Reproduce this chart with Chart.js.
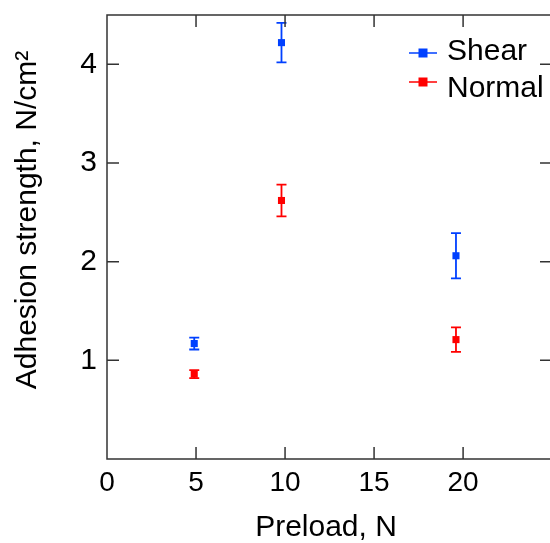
<!DOCTYPE html>
<html>
<head>
<meta charset="utf-8">
<script src="https://cdn.jsdelivr.net/npm/chart.js@4/dist/chart.umd.min.js"></script>
<style>
  html, body { margin: 0; padding: 0; background: #fff; }
  #wrap { width: 550px; height: 543px; }
</style>
</head>
<body>
<div id="wrap"><canvas id="chart"></canvas></div>
<script>
// preload (N) and adhesion strength (N/cm2)
const preload = [4.9, 9.8, 19.6];
const shearMean = [1.17, 4.22, 2.06];
const shearErr = [0.06, 0.20, 0.23];
const normalMean = [0.86, 2.62, 1.21];
const normalErr = [0.04, 0.16, 0.125];
const xTicks = [0, 5, 10, 15, 20];
const yTicks = [1, 2, 3, 4];

const blue = 'rgb(0, 64, 255)';
const red = 'rgb(255, 0, 0)';
const axisColor = '#333';
const font = 'Liberation Sans, Arial, sans-serif';

function points(xs, ys) {
    return xs.map((x, i) => ({ x: x, y: ys[i] }));
}

// error bars, frame, inward ticks, y title and legend
const extras = {
    id: 'extras',
    beforeDatasetsDraw(chart) {
        const ctx = chart.ctx;
        const x = chart.scales.x, y = chart.scales.y;
        const errs = [shearErr, normalErr];
        chart.data.datasets.forEach((ds, k) => {
            ctx.save();
            ctx.strokeStyle = ds.borderColor;
            ctx.lineWidth = 1.8;
            ds.data.forEach((p, i) => {
                const px = x.getPixelForValue(p.x);
                const top = y.getPixelForValue(p.y + errs[k][i]);
                const bot = y.getPixelForValue(p.y - errs[k][i]);
                ctx.beginPath();
                ctx.moveTo(px, top); ctx.lineTo(px, bot);
                ctx.moveTo(px - 5, top); ctx.lineTo(px + 5, top);
                ctx.moveTo(px - 5, bot); ctx.lineTo(px + 5, bot);
                ctx.stroke();
            });
            ctx.restore();
        });
    },
    afterDraw(chart) {
        const ctx = chart.ctx;
        const a = chart.chartArea;
        const x = chart.scales.x, y = chart.scales.y;
        const tl = 12;
        const right = chart.width + 2;
        ctx.save();
        ctx.strokeStyle = axisColor;
        ctx.lineWidth = 1.5;
        ctx.beginPath();
        ctx.moveTo(right, a.top); ctx.lineTo(a.left, a.top);
        ctx.lineTo(a.left, a.bottom); ctx.lineTo(right, a.bottom);
        xTicks.forEach(v => {
            const px = x.getPixelForValue(v);
            if (v === 0) return;
            ctx.moveTo(px, a.bottom); ctx.lineTo(px, a.bottom - tl);
            ctx.moveTo(px, a.top); ctx.lineTo(px, a.top + tl);
        });
        yTicks.forEach(v => {
            const py = y.getPixelForValue(v);
            ctx.moveTo(a.left, py); ctx.lineTo(a.left + tl, py);
            ctx.moveTo(right, py); ctx.lineTo(right - tl, py);
        });
        ctx.stroke();

        // y axis title
        ctx.save();
        ctx.translate(36, 220);
        ctx.rotate(-Math.PI / 2);
        ctx.fillStyle = '#000';
        ctx.font = '30px ' + font;
        ctx.textAlign = 'center';
        ctx.textBaseline = 'alphabetic';
        ctx.fillText('Adhesion strength, N/cm\u00b2', 0, 0);
        ctx.restore();

        // legend
        const rows = [{ y: 53, ty: 60 }, { y: 82, ty: 97 }];
        chart.data.datasets.forEach((ds, k) => {
            const r = rows[k];
            ctx.strokeStyle = ds.borderColor;
            ctx.fillStyle = ds.borderColor;
            ctx.lineWidth = 1.5;
            ctx.beginPath();
            ctx.moveTo(409, r.y); ctx.lineTo(437, r.y);
            ctx.stroke();
            ctx.fillRect(418.5, r.y - 4.5, 9, 9);
            ctx.fillStyle = '#000';
            ctx.font = '30px ' + font;
            ctx.textAlign = 'left';
            ctx.textBaseline = 'alphabetic';
            ctx.fillText(ds.label, 447, r.ty);
        });
        ctx.restore();
    }
};

new Chart(document.getElementById('chart'), {
    type: 'scatter',
    data: {
        datasets: [{
            label: 'Shear',
            data: points(preload, shearMean),
            borderColor: blue,
            backgroundColor: blue,
            pointStyle: 'rect',
            pointRadius: 5,
            pointHoverRadius: 5,
            borderWidth: 0
        }, {
            label: 'Normal',
            data: points(preload, normalMean),
            borderColor: red,
            backgroundColor: red,
            pointStyle: 'rect',
            pointRadius: 5,
            pointHoverRadius: 5,
            borderWidth: 0
        }]
    },
    options: {
        responsive: true,
        maintainAspectRatio: false,
        animation: false,
        layout: { padding: { top: 15, right: 0, left: 0, bottom: 0 } },
        plugins: {
            legend: { display: false },
            tooltip: { enabled: false }
        },
        scales: {
            x: {
                type: 'linear',
                min: 0,
                max: 24.6,
                afterBuildTicks: s => { s.ticks = xTicks.map(v => ({ value: v })); },
                afterFit: s => { s.height = 84; s.paddingLeft = 0; s.paddingRight = 0; },
                grid: { display: false, drawTicks: false },
                border: { display: false },
                ticks: { color: '#000', font: { family: font, size: 28 }, padding: 7, maxRotation: 0 },
                title: {
                    display: true,
                    text: 'Preload, N',
                    color: '#000',
                    font: { family: font, size: 30, lineHeight: 1.05 },
                    padding: { top: 0, bottom: 0 }
                }
            },
            y: {
                type: 'linear',
                min: 0,
                max: 4.5,
                afterBuildTicks: s => { s.ticks = yTicks.map(v => ({ value: v })); },
                afterFit: s => { s.width = 107; s.paddingTop = 0; s.paddingBottom = 0; },
                grid: { display: false, drawTicks: false },
                border: { display: false },
                ticks: { color: '#000', font: { family: font, size: 30 }, padding: 10 }
            }
        }
    },
    plugins: [extras]
});
</script>
</body>
</html>
